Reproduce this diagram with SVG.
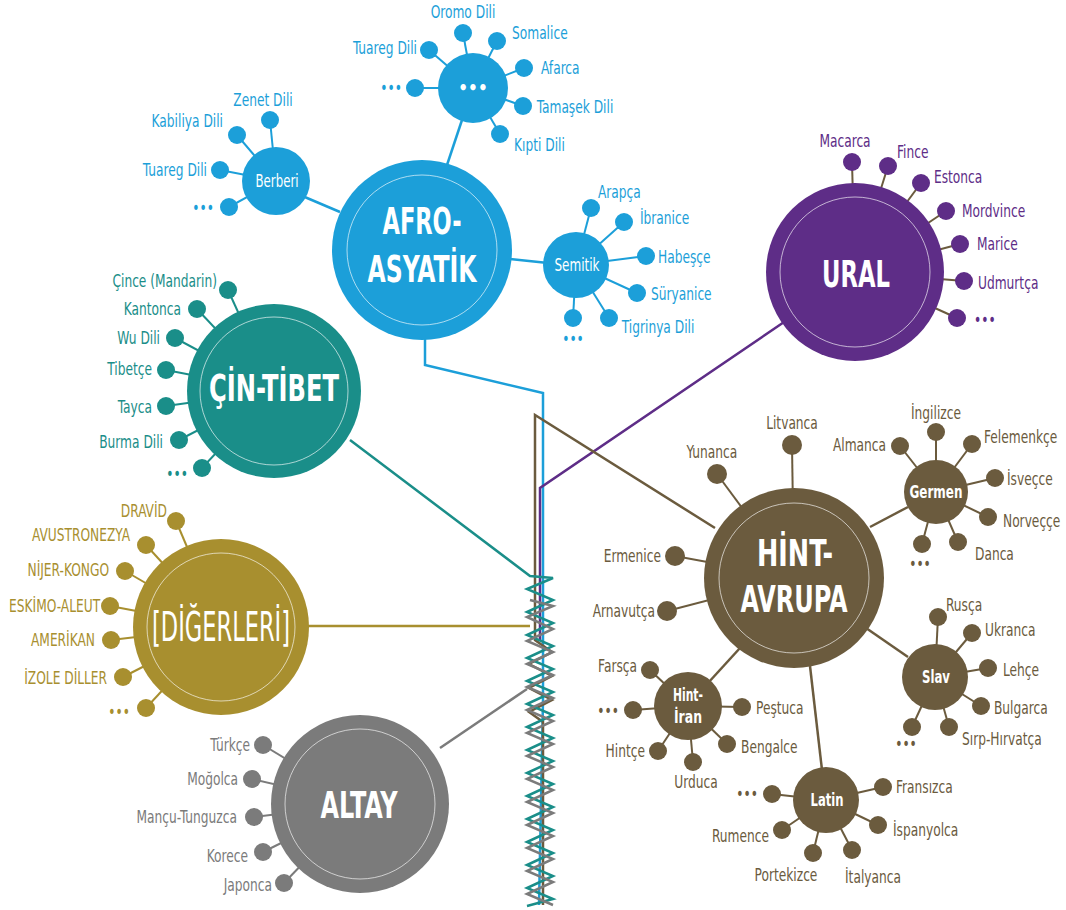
<svg xmlns="http://www.w3.org/2000/svg" width="1066" height="910" viewBox="0 0 1066 910">
<style>
text{font-family:"Liberation Sans Narrow","DejaVu Sans Condensed","Roboto Condensed","Liberation Sans",sans-serif;font-stretch:condensed}
.lb{font-size:17px}
.lb text{transform-box:fill-box;transform-origin:0% 50%;transform:scaleX(0.8)}
.lb text.e{text-anchor:end;transform-origin:100% 50%}
.lb text.m{text-anchor:middle;transform-origin:50% 50%}
.big{font-size:38px;font-weight:bold;fill:#fff;text-anchor:middle}
.sub{font-size:17px;fill:#fff;text-anchor:middle}
.subb{font-size:17px;font-weight:bold;fill:#fff;text-anchor:middle}
.ring{fill:none;stroke:#fff;stroke-width:0.8;opacity:0.8}
.blue{fill:#1c9fd9}.blueS{stroke:#1c9fd9;stroke-width:2.5;fill:none}
.teal{fill:#1a8e89}.tealS{stroke:#1a8e89;stroke-width:2.5;fill:none}
.pur{fill:#5e2d87}.purS{stroke:#5e2d87;stroke-width:2.5;fill:none}
.brn{fill:#6b5b3e}.brnS{stroke:#6b5b3e;stroke-width:2.5;fill:none}
.gld{fill:#a88f2f}.gldS{stroke:#a88f2f;stroke-width:2.5;fill:none}
.gry{fill:#7b7b7b}.gryS{stroke:#7b7b7b;stroke-width:2.5;fill:none}
.sp{stroke-width:2}
</style>
<rect width="1066" height="910" fill="#fff"/>
<g id="connectors">
<polyline class="blueS" points="425,335 425,365 543,393 543,700 539,905"/>
<polyline class="purS" points="790,318 540,488 540,640"/>
<polyline class="brnS" points="715,528 535,415 535,640 552,652 529,664 552,676 529,688 552,700 529,712 543,722 543,905"/>
<line class="gldS" x1="308" y1="626" x2="530" y2="626"/>
<polyline class="tealS" points="350,440 530,576 553,578 527,589 553,600 527,612 553,623 527,635 553,646 527,658 553,669 527,681 553,692 527,704 553,715 527,727 553,738 527,750 553,761 527,773 553,784 527,796 553,807 527,819 553,830 527,842 553,853 527,865 553,876 527,888 553,899 527,906"/>
<polyline class="gryS" points="530,600 553,606 527,617 553,629 527,641 553,652 527,664 553,675 527,687 553,698 527,710 553,721 527,733 553,744 527,756 553,767 527,779 553,790 527,802 553,813 527,825 553,836 527,848 553,859 527,871 553,882 527,894 553,905"/>
<line class="gryS" x1="440" y1="748" x2="527" y2="689"/>
<line class="blueS" x1="462" y1="120" x2="447" y2="165"/>
<line class="blueS" x1="300" y1="195" x2="340" y2="212"/>
<line class="blueS" x1="510" y1="259" x2="548" y2="263"/>
<line class="brnS" x1="870" y1="527" x2="908" y2="507"/>
<line class="brnS" x1="866" y1="628" x2="908" y2="657"/>
<line class="brnS" x1="740" y1="648" x2="708" y2="683"/>
<line class="brnS" x1="810" y1="666" x2="822" y2="770"/>
</g>

<g id="afro-asyatik">
<circle class="blue" cx="422" cy="250" r="90"/>
<circle class="ring" cx="422" cy="250" r="75"/>
<text class="big" x="422" y="234" textLength="79" lengthAdjust="spacingAndGlyphs">AFRO-</text>
<text class="big" x="422" y="282" textLength="109" lengthAdjust="spacingAndGlyphs">ASYATİK</text>
</g>

<g id="dots-group">
<g class="blueS sp">
<line x1="463" y1="33" x2="473" y2="88"/><line x1="497" y1="41" x2="473" y2="88"/><line x1="524" y1="68" x2="473" y2="88"/><line x1="523" y1="106" x2="473" y2="88"/><line x1="500" y1="134" x2="473" y2="88"/><line x1="429" y1="50" x2="473" y2="88"/><line x1="415" y1="88" x2="473" y2="88"/>
</g>
<circle class="blue" cx="473" cy="88" r="35"/>
<text class="subb" x="473" y="94">•••</text>
<g class="blue">
<circle cx="463" cy="33" r="9"/><circle cx="497" cy="41" r="9"/><circle cx="524" cy="68" r="9"/><circle cx="523" cy="106" r="9"/><circle cx="500" cy="134" r="9"/><circle cx="429" cy="50" r="9"/><circle cx="415" cy="88" r="9"/>
</g>
<g class="blue lb">
<text class="m" x="463" y="18">Oromo Dili</text>
<text x="512" y="39">Somalice</text>
<text x="541" y="74">Afarca</text>
<text x="537" y="113">Tamaşek Dili</text>
<text x="514" y="151">Kıpti Dili</text>
<text class="e" x="417" y="54">Tuareg Dili</text>
<text class="e" x="402" y="94">•••</text>
</g>
</g>

<g id="berberi">
<g class="blueS sp">
<line x1="270" y1="120" x2="276" y2="181"/><line x1="237" y1="135" x2="276" y2="181"/><line x1="220" y1="170" x2="276" y2="181"/><line x1="229" y1="207" x2="276" y2="181"/>
</g>
<circle class="blue" cx="276" cy="181" r="34"/>
<text class="sub" x="277" y="187" textLength="43" lengthAdjust="spacingAndGlyphs">Berberi</text>
<g class="blue">
<circle cx="270" cy="120" r="9"/><circle cx="237" cy="135" r="9"/><circle cx="220" cy="170" r="9"/><circle cx="229" cy="207" r="9"/>
</g>
<g class="blue lb">
<text class="m" x="263" y="106">Zenet Dili</text>
<text class="e" x="223" y="127">Kabiliya Dili</text>
<text class="e" x="207" y="176">Tuareg Dili</text>
<text class="e" x="214" y="214">•••</text>
</g>
</g>

<g id="semitik">
<g class="blueS sp">
<line x1="591" y1="208" x2="576" y2="265"/><line x1="624" y1="222" x2="576" y2="265"/><line x1="646" y1="256" x2="576" y2="265"/><line x1="637" y1="293" x2="576" y2="265"/><line x1="609" y1="318" x2="576" y2="265"/><line x1="573" y1="318" x2="576" y2="265"/>
</g>
<circle class="blue" cx="576" cy="265" r="33"/>
<text class="sub" x="577" y="271" textLength="45" lengthAdjust="spacingAndGlyphs">Semitik</text>
<g class="blue">
<circle cx="591" cy="208" r="9"/><circle cx="624" cy="222" r="9"/><circle cx="646" cy="256" r="9"/><circle cx="637" cy="293" r="9"/><circle cx="609" cy="318" r="9"/><circle cx="573" cy="318" r="9"/>
</g>
<g class="blue lb">
<text x="598" y="198">Arapça</text>
<text x="640" y="224">İbranice</text>
<text x="658" y="263">Habeşçe</text>
<text x="651" y="300">Süryanice</text>
<text x="622" y="333">Tigrinya Dili</text>
<text class="m" x="573" y="345">•••</text>
</g>
</g>

<g id="ural">
<g stroke="#6b5b3e" stroke-width="2">
<line x1="852" y1="162" x2="855" y2="272"/><line x1="888" y1="166" x2="855" y2="272"/><line x1="921" y1="183" x2="855" y2="272"/><line x1="946" y1="211" x2="855" y2="272"/><line x1="960" y1="244" x2="855" y2="272"/><line x1="964" y1="281" x2="855" y2="272"/><line x1="957" y1="318" x2="855" y2="272"/>
</g>
<circle class="pur" cx="855" cy="272" r="89"/>
<circle class="ring" cx="855" cy="272" r="75"/>
<text class="big" x="856" y="287" textLength="68" lengthAdjust="spacingAndGlyphs">URAL</text>
<g class="pur">
<circle cx="852" cy="162" r="9"/><circle cx="888" cy="166" r="9"/><circle cx="921" cy="183" r="9"/><circle cx="946" cy="211" r="9"/><circle cx="960" cy="244" r="9"/><circle cx="964" cy="281" r="9"/><circle cx="957" cy="318" r="9"/>
</g>
<g class="pur lb">
<text class="m" x="845" y="147">Macarca</text>
<text x="897" y="158">Fince</text>
<text x="934" y="183">Estonca</text>
<text x="962" y="217">Mordvince</text>
<text x="977" y="250">Marice</text>
<text x="978" y="289">Udmurtça</text>
<text x="974" y="326">•••</text>
</g>
</g>

<g id="cin-tibet">
<g class="tealS sp">
<line x1="228" y1="290" x2="274" y2="391"/><line x1="197" y1="309" x2="274" y2="391"/><line x1="175" y1="338" x2="274" y2="391"/><line x1="166" y1="370" x2="274" y2="391"/><line x1="166" y1="406" x2="274" y2="391"/><line x1="179" y1="440" x2="274" y2="391"/><line x1="202" y1="468" x2="274" y2="391"/>
</g>
<circle class="teal" cx="274" cy="391" r="87"/>
<circle class="ring" cx="274" cy="391" r="74"/>
<text class="big" x="274" y="401" textLength="130" lengthAdjust="spacingAndGlyphs">ÇİN-TİBET</text>
<g class="teal">
<circle cx="228" cy="290" r="9"/><circle cx="197" cy="309" r="9"/><circle cx="175" cy="338" r="9"/><circle cx="166" cy="370" r="9"/><circle cx="166" cy="406" r="9"/><circle cx="179" cy="440" r="9"/><circle cx="202" cy="468" r="9"/>
</g>
<g class="teal lb">
<text class="e" x="217" y="287">Çince (Mandarin)</text>
<text class="e" x="181" y="315">Kantonca</text>
<text class="e" x="160" y="344">Wu Dili</text>
<text class="e" x="152" y="375">Tibetçe</text>
<text class="e" x="152" y="413">Tayca</text>
<text class="e" x="163" y="448">Burma Dili</text>
<text class="e" x="188" y="480">•••</text>
</g>
</g>

<g id="digerleri">
<g class="gldS sp">
<line x1="176" y1="521" x2="221" y2="627"/><line x1="146" y1="545" x2="221" y2="627"/><line x1="125" y1="571" x2="221" y2="627"/><line x1="110" y1="606" x2="221" y2="627"/><line x1="111" y1="640" x2="221" y2="627"/><line x1="123" y1="677" x2="221" y2="627"/><line x1="146" y1="708" x2="221" y2="627"/>
</g>
<circle class="gld" cx="221" cy="627" r="88"/>
<circle class="ring" cx="221" cy="627" r="74"/>
<text x="221" y="641" font-size="40" fill="#fff" text-anchor="middle" textLength="138" lengthAdjust="spacingAndGlyphs">[DİĞERLERİ]</text>
<g class="gld">
<circle cx="176" cy="521" r="9"/><circle cx="146" cy="545" r="9"/><circle cx="125" cy="571" r="9"/><circle cx="110" cy="606" r="9"/><circle cx="111" cy="640" r="9"/><circle cx="123" cy="677" r="9"/><circle cx="146" cy="708" r="9"/>
</g>
<g class="gld lb">
<text class="e" x="167" y="517">DRAVİD</text>
<text class="e" x="130" y="541">AVUSTRONEZYA</text>
<text class="e" x="109" y="576">NİJER-KONGO</text>
<text class="e" x="100" y="612">ESKİMO-ALEUT</text>
<text class="e" x="95" y="646">AMERİKAN</text>
<text class="e" x="107" y="684">İZOLE DİLLER</text>
<text class="e" x="130" y="718">•••</text>
</g>
</g>

<g id="altay">
<g class="gryS sp">
<line x1="263" y1="745" x2="360" y2="804"/><line x1="252" y1="779" x2="360" y2="804"/><line x1="254" y1="817" x2="360" y2="804"/><line x1="263" y1="852" x2="360" y2="804"/><line x1="284" y1="883" x2="360" y2="804"/>
</g>
<circle class="gry" cx="360" cy="804" r="89"/>
<circle class="ring" cx="360" cy="804" r="75"/>
<text class="big" x="359" y="818" textLength="77" lengthAdjust="spacingAndGlyphs">ALTAY</text>
<g class="gry">
<circle cx="263" cy="745" r="9"/><circle cx="252" cy="779" r="9"/><circle cx="254" cy="817" r="9"/><circle cx="263" cy="852" r="9"/><circle cx="284" cy="883" r="9"/>
</g>
<g class="gry lb">
<text class="e" x="250" y="751">Türkçe</text>
<text class="e" x="238" y="785">Moğolca</text>
<text class="e" x="237" y="823">Mançu-Tunguzca</text>
<text class="e" x="248" y="862">Korece</text>
<text class="e" x="272" y="891">Japonca</text>
</g>
</g>

<g id="hint-avrupa">
<g class="brnS sp">
<line x1="792" y1="445" x2="794" y2="578"/><line x1="717" y1="474" x2="794" y2="578"/><line x1="675" y1="556" x2="794" y2="578"/><line x1="667" y1="611" x2="794" y2="578"/>
</g>
<circle class="brn" cx="794" cy="578" r="90"/>
<circle class="ring" cx="794" cy="578" r="75"/>
<text class="big" x="795" y="566" textLength="76" lengthAdjust="spacingAndGlyphs">HİNT-</text>
<text class="big" x="794" y="612" textLength="107" lengthAdjust="spacingAndGlyphs">AVRUPA</text>
<g class="brn">
<circle cx="792" cy="445" r="10"/><circle cx="717" cy="474" r="10"/><circle cx="675" cy="556" r="10"/><circle cx="667" cy="611" r="10"/>
</g>
<g class="brn lb">
<text class="m" x="792" y="429">Litvanca</text>
<text class="m" x="712" y="458">Yunanca</text>
<text class="e" x="661" y="562">Ermenice</text>
<text class="e" x="655" y="617">Arnavutça</text>
</g>
</g>

<g id="germen">
<g class="brnS sp">
<line x1="936" y1="432" x2="936" y2="492"/><line x1="900" y1="446" x2="936" y2="492"/><line x1="972" y1="444" x2="936" y2="492"/><line x1="995" y1="478" x2="936" y2="492"/><line x1="988" y1="517" x2="936" y2="492"/><line x1="958" y1="542" x2="936" y2="492"/><line x1="922" y1="544" x2="936" y2="492"/>
</g>
<circle class="brn" cx="936" cy="492" r="32"/>
<text class="subb" x="936" y="498" textLength="53" lengthAdjust="spacingAndGlyphs">Germen</text>
<g class="brn">
<circle cx="936" cy="432" r="9"/><circle cx="900" cy="446" r="9"/><circle cx="972" cy="444" r="9"/><circle cx="995" cy="478" r="9"/><circle cx="988" cy="517" r="9"/><circle cx="958" cy="542" r="9"/><circle cx="922" cy="544" r="9"/>
</g>
<g class="brn lb">
<text class="m" x="936" y="419">İngilizce</text>
<text class="e" x="886" y="451">Almanca</text>
<text x="984" y="443">Felemenkçe</text>
<text x="1007" y="485">İsveçce</text>
<text x="1003" y="527">Norveççe</text>
<text x="975" y="560">Danca</text>
<text class="m" x="920" y="570">•••</text>
</g>
</g>

<g id="slav">
<g class="brnS sp">
<line x1="938" y1="617" x2="935" y2="677"/><line x1="972" y1="633" x2="935" y2="677"/><line x1="988" y1="668" x2="935" y2="677"/><line x1="981" y1="706" x2="935" y2="677"/><line x1="949" y1="727" x2="935" y2="677"/><line x1="912" y1="727" x2="935" y2="677"/>
</g>
<circle class="brn" cx="935" cy="677" r="33"/>
<text class="subb" x="936" y="683" textLength="28" lengthAdjust="spacingAndGlyphs">Slav</text>
<g class="brn">
<circle cx="938" cy="617" r="9"/><circle cx="972" cy="633" r="9"/><circle cx="988" cy="668" r="9"/><circle cx="981" cy="706" r="9"/><circle cx="949" cy="727" r="9"/><circle cx="912" cy="727" r="9"/>
</g>
<g class="brn lb">
<text x="946" y="611">Rusça</text>
<text x="985" y="636">Ukranca</text>
<text x="1003" y="676">Lehçe</text>
<text x="994" y="714">Bulgarca</text>
<text x="962" y="745">Sırp-Hırvatça</text>
<text class="m" x="906" y="750">•••</text>
</g>
</g>

<g id="hint-iran">
<g class="brnS sp">
<line x1="650" y1="670" x2="688" y2="706"/><line x1="633" y1="710" x2="688" y2="706"/><line x1="658" y1="751" x2="688" y2="706"/><line x1="693" y1="762" x2="688" y2="706"/><line x1="727" y1="744" x2="688" y2="706"/><line x1="742" y1="707" x2="688" y2="706"/>
</g>
<circle class="brn" cx="688" cy="706" r="34"/>
<text class="subb" x="688" y="701" textLength="30" lengthAdjust="spacingAndGlyphs">Hint-</text>
<text class="subb" x="688" y="723" textLength="28" lengthAdjust="spacingAndGlyphs">İran</text>
<g class="brn">
<circle cx="650" cy="670" r="9"/><circle cx="633" cy="710" r="9"/><circle cx="658" cy="751" r="9"/><circle cx="693" cy="762" r="9"/><circle cx="727" cy="744" r="9"/><circle cx="742" cy="707" r="9"/>
</g>
<g class="brn lb">
<text class="e" x="637" y="672">Farsça</text>
<text class="e" x="619" y="717">•••</text>
<text class="e" x="645" y="757">Hintçe</text>
<text class="m" x="696" y="788">Urduca</text>
<text x="741" y="753">Bengalce</text>
<text x="756" y="714">Peştuca</text>
</g>
</g>

<g id="latin">
<g class="brnS sp">
<line x1="772" y1="794" x2="826" y2="800"/><line x1="883" y1="787" x2="826" y2="800"/><line x1="878" y1="825" x2="826" y2="800"/><line x1="852" y1="850" x2="826" y2="800"/><line x1="813" y1="853" x2="826" y2="800"/><line x1="782" y1="830" x2="826" y2="800"/>
</g>
<circle class="brn" cx="826" cy="800" r="33"/>
<text class="subb" x="827" y="806" textLength="33" lengthAdjust="spacingAndGlyphs">Latin</text>
<g class="brn">
<circle cx="772" cy="794" r="9"/><circle cx="883" cy="787" r="9"/><circle cx="878" cy="825" r="9"/><circle cx="852" cy="850" r="9"/><circle cx="813" cy="853" r="9"/><circle cx="782" cy="830" r="9"/>
</g>
<g class="brn lb">
<text class="e" x="758" y="800">•••</text>
<text x="896" y="793">Fransızca</text>
<text x="893" y="836">İspanyolca</text>
<text class="m" x="873" y="883">İtalyanca</text>
<text class="m" x="786" y="881">Portekizce</text>
<text class="e" x="769" y="842">Rumence</text>
</g>
</g>
</svg>
